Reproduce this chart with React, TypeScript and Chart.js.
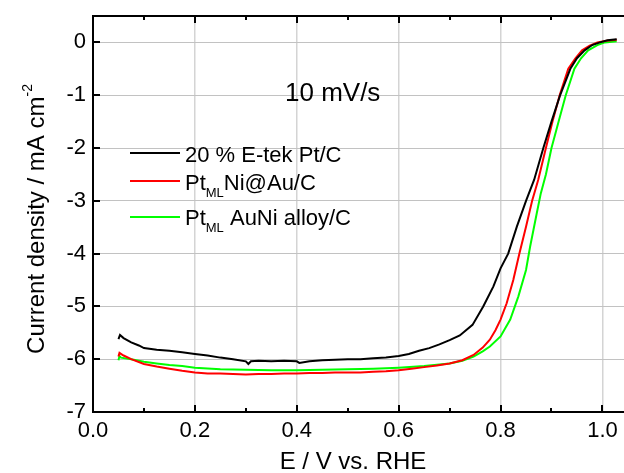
import React, { useEffect, useRef } from 'react';
import { Chart, registerables } from 'chart.js';

Chart.register(...registerables);

// ---- data (E in V vs RHE, current density in mA cm^-2) ----
const blackE = [0.050, 0.053, 0.060, 0.075, 0.090, 0.100, 0.125, 0.150, 0.175, 0.200, 0.225, 0.250, 0.275, 0.300, 0.305, 0.310, 0.325, 0.350, 0.375, 0.400, 0.405, 0.425, 0.450, 0.475, 0.500, 0.525, 0.550, 0.575, 0.600, 0.620, 0.640, 0.660, 0.680, 0.700, 0.720, 0.745, 0.766, 0.786, 0.800, 0.815, 0.832, 0.850, 0.866, 0.884, 0.900, 0.917, 0.937, 0.950, 0.965, 0.980, 0.995, 1.010, 1.028];
const blackJ = [-5.62, -5.54, -5.60, -5.68, -5.74, -5.79, -5.82, -5.84, -5.87, -5.90, -5.93, -5.97, -6.00, -6.04, -6.09, -6.04, -6.03, -6.04, -6.03, -6.04, -6.07, -6.04, -6.02, -6.01, -6.00, -6.00, -5.98, -5.97, -5.94, -5.90, -5.84, -5.79, -5.72, -5.64, -5.55, -5.35, -5.00, -4.62, -4.28, -4.00, -3.49, -3.00, -2.60, -2.00, -1.50, -1.00, -0.50, -0.30, -0.15, -0.05, 0.00, 0.04, 0.06];

const redE = [0.050, 0.052, 0.060, 0.075, 0.100, 0.125, 0.150, 0.175, 0.200, 0.225, 0.250, 0.275, 0.300, 0.325, 0.350, 0.375, 0.400, 0.425, 0.450, 0.475, 0.500, 0.525, 0.550, 0.575, 0.600, 0.625, 0.650, 0.675, 0.700, 0.725, 0.747, 0.765, 0.779, 0.790, 0.800, 0.812, 0.825, 0.837, 0.850, 0.862, 0.874, 0.889, 0.902, 0.916, 0.933, 0.947, 0.960, 0.975, 0.990, 1.008, 1.028];
const redJ = [-5.95, -5.88, -5.93, -6.00, -6.09, -6.14, -6.18, -6.22, -6.25, -6.27, -6.27, -6.28, -6.29, -6.28, -6.28, -6.27, -6.27, -6.26, -6.26, -6.25, -6.25, -6.25, -6.24, -6.23, -6.21, -6.18, -6.15, -6.12, -6.08, -6.02, -5.92, -5.78, -5.63, -5.45, -5.25, -4.94, -4.50, -4.00, -3.49, -3.00, -2.60, -2.00, -1.50, -1.00, -0.50, -0.30, -0.15, -0.06, 0.00, 0.03, 0.05];

const greenE = [0.050, 0.052, 0.055, 0.075, 0.100, 0.125, 0.150, 0.175, 0.200, 0.250, 0.300, 0.350, 0.400, 0.450, 0.500, 0.550, 0.600, 0.650, 0.700, 0.725, 0.747, 0.765, 0.779, 0.800, 0.819, 0.835, 0.850, 0.858, 0.871, 0.879, 0.889, 0.900, 0.914, 0.928, 0.945, 0.958, 0.972, 0.990, 1.005, 1.028];
const greenJ = [-6.02, -5.94, -5.97, -6.00, -6.05, -6.08, -6.11, -6.13, -6.16, -6.19, -6.20, -6.21, -6.21, -6.20, -6.19, -6.18, -6.16, -6.13, -6.08, -6.03, -5.95, -5.85, -5.76, -5.57, -5.25, -4.81, -4.31, -3.87, -3.24, -2.86, -2.50, -2.00, -1.50, -1.00, -0.50, -0.30, -0.15, -0.05, 0.00, 0.02];

const seriesNames = ['20 % E-tek Pt/C', 'Pt_MLNi@Au/C', 'Pt_ML AuNi alloy/C'];
const seriesColors = ['#000000', '#ff0000', '#00ff00'];
const xMin = 0;
const xMax = 1.06;
const yMin = -7;
const yMax = 0.5;
const xTitle = 'E / V vs. RHE';
const yTitleMain = 'Current density / mA cm';
const yTitleSup = '-2';
const annotation = '10 mV/s';

const FONT = '"Liberation Sans", Arial, sans-serif';

const toPoints = (xs: number[], ys: number[]) => xs.map((x, i) => ({ x, y: ys[i] }));

const isMajorX = (v: number) => Math.round(v * 10) % 2 === 0;

const overlayPlugin = {
  id: 'overlay',
  afterDraw(chart: any) {
    const ctx = chart.ctx as CanvasRenderingContext2D;
    const area = chart.chartArea;
    const xs = chart.scales.x;
    const ys = chart.scales.y;
    ctx.save();
    ctx.strokeStyle = '#000';
    ctx.lineWidth = 2;
    // frame: left, bottom, top
    ctx.beginPath();
    ctx.moveTo(area.left, area.top);
    ctx.lineTo(area.right + 2, area.top);
    ctx.moveTo(area.left, area.top - 1);
    ctx.lineTo(area.left, area.bottom + 1);
    ctx.moveTo(area.left - 1, area.bottom);
    ctx.lineTo(area.right + 2, area.bottom);
    ctx.stroke();
    // x ticks (inward, top and bottom)
    ctx.beginPath();
    for (let i = 0; i <= 10; i++) {
      const v = i / 10;
      const px = Math.round(xs.getPixelForValue(v));
      const len = isMajorX(v) ? 7 : 4;
      ctx.moveTo(px, area.bottom);
      ctx.lineTo(px, area.bottom - len);
      ctx.moveTo(px, area.top);
      ctx.lineTo(px, area.top + len);
    }
    // y ticks (inward, left)
    for (let v = yMin; v <= 0; v++) {
      const py = Math.round(ys.getPixelForValue(v));
      ctx.moveTo(area.left, py);
      ctx.lineTo(area.left + 7, py);
    }
    ctx.stroke();

    // legend
    const rows = [
      { lineY: 153, base: 162 },
      { lineY: 181, base: 189.5 },
      { lineY: 217, base: 225 },
    ];
    ctx.textBaseline = 'alphabetic';
    ctx.textAlign = 'left';
    seriesNames.forEach((name, i) => {
      const r = rows[i];
      ctx.strokeStyle = seriesColors[i];
      ctx.lineWidth = 2;
      ctx.beginPath();
      ctx.moveTo(130, r.lineY);
      ctx.lineTo(180, r.lineY);
      ctx.stroke();
      ctx.fillStyle = '#000';
      let x = 185;
      if (name.startsWith('Pt_ML')) {
        ctx.font = `22px ${FONT}`;
        ctx.fillText('Pt', x, r.base);
        x += ctx.measureText('Pt').width;
        ctx.font = `13px ${FONT}`;
        ctx.fillText('ML', x, r.base + 7);
        x += ctx.measureText('ML').width;
        ctx.font = `22px ${FONT}`;
        ctx.fillText(name.slice(5), x, r.base);
      } else {
        ctx.font = `22px ${FONT}`;
        ctx.fillText(name, x, r.base);
      }
    });

    // annotation
    ctx.fillStyle = '#000';
    ctx.font = `26px ${FONT}`;
    ctx.fillText(annotation, 285, 101);

    // x title
    ctx.font = `24px ${FONT}`;
    ctx.textAlign = 'center';
    ctx.fillText(xTitle, 353, 469);

    // y title (rotated)
    ctx.save();
    ctx.translate(35, 219);
    ctx.rotate(-Math.PI / 2);
    ctx.textAlign = 'left';
    ctx.font = `24px ${FONT}`;
    const w1 = ctx.measureText(yTitleMain).width;
    ctx.font = `14px ${FONT}`;
    const w2 = ctx.measureText(yTitleSup).width;
    const start = -(w1 + w2) / 2;
    ctx.font = `24px ${FONT}`;
    ctx.fillText(yTitleMain, start, 8.6);
    ctx.font = `14px ${FONT}`;
    ctx.fillText(yTitleSup, start + w1, -3);
    ctx.restore();

    ctx.restore();
  },
};

export default function App() {
  const ref = useRef<HTMLCanvasElement | null>(null);

  useEffect(() => {
    if (!ref.current) return;
    const datasets = [
      [blackE, blackJ],
      [redE, redJ],
      [greenE, greenJ],
    ].map(([xs, ys], i) => ({
      label: seriesNames[i],
      data: toPoints(xs, ys),
      borderColor: seriesColors[i],
      backgroundColor: seriesColors[i],
      borderWidth: 2,
      pointRadius: 0,
      tension: 0,
      fill: false,
    }));

    const chart = new Chart(ref.current, {
      type: 'line',
      data: { datasets },
      options: {
        animation: false,
        responsive: false,
        events: [],
        layout: { padding: { top: 16, right: 7, left: 0, bottom: 0 } },
        plugins: {
          legend: { display: false },
          tooltip: { enabled: false },
          title: { display: false },
        },
        scales: {
          x: {
            type: 'linear',
            min: xMin,
            max: xMax,
            afterFit: (s: any) => { s.height = 61; s.paddingLeft = 0; s.paddingRight = 0; },
            border: { display: false },
            grid: {
              drawTicks: false,
              lineWidth: 1.5,
              color: (c: any) => {
                const v = c.tick ? c.tick.value : 0;
                return v > 0.05 && isMajorX(v) ? '#d4d4d4' : 'rgba(0,0,0,0)';
              },
            },
            ticks: {
              stepSize: 0.1,
              includeBounds: false,
              autoSkip: false,
              maxRotation: 0,
              padding: 6,
              color: '#000',
              font: { family: FONT, size: 22 },
              callback: (v: any) => (isMajorX(Number(v)) ? Number(v).toFixed(1) : ''),
            },
          },
          y: {
            type: 'linear',
            min: yMin,
            max: yMax,
            afterFit: (s: any) => { s.width = 93; s.paddingTop = 0; s.paddingBottom = 0; },
            border: { display: false },
            grid: {
              drawTicks: false,
              lineWidth: 1,
              color: (c: any) => {
                const v = c.tick ? c.tick.value : yMin;
                return v > yMin + 0.5 ? '#c2c2c2' : 'rgba(0,0,0,0)';
              },
            },
            ticks: {
              stepSize: 1,
              includeBounds: false,
              padding: 7,
              color: '#000',
              font: { family: FONT, size: 22 },
              callback: (v: any) => String(Math.round(Number(v))),
            },
          },
        },
      },
      plugins: [overlayPlugin],
    });
    return () => chart.destroy();
  }, []);

  return (
    <div style={{ position: 'fixed', left: 0, top: 0, width: 624, height: 473, overflow: 'hidden', background: '#fff' }}>
      <canvas ref={ref} width={640} height={473} style={{ display: 'block', width: 640, height: 473 }} />
    </div>
  );
}
